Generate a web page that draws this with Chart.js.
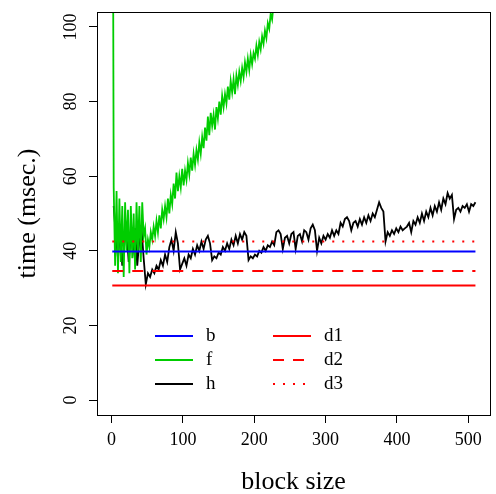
<!DOCTYPE html>
<html>
<head>
<meta charset="utf-8">
<script src="https://cdn.jsdelivr.net/npm/chart.js@4.4.1/dist/chart.umd.min.js"></script>
<style>
  html, body { margin: 0; padding: 0; background: #fff; }
  canvas { display: block; }
</style>
</head>
<body>
<canvas id="chartTime" width="496" height="494"></canvas>
<script>
// block sizes for the flat reference lines
const flatBlocks = [1, 510];
const bTime = 39.8;
const d1Time = 30.7;
const d2Time = 34.6;
const d3Time = 42.5;

// f : block sizes 1, 3, 5, ... 231 (read every 2nd block off the picture)
const fStart = 1, fStep = 2;
const fTime = [
  200, 57, 36, 56, 34, 54, 37, 52, 33, 53,
  40, 51, 34, 52, 38, 50, 35, 53, 40, 52,
  37, 53, 44, 46, 39, 43, 41, 45, 43, 46.5,
  44, 48, 45, 49.5, 46, 51, 48.5, 52, 49, 54,
  50, 55, 52.5, 58, 54, 61, 56, 60, 57, 62,
  57.5, 61.5, 59, 63.5, 60.5, 65, 61.5, 66, 63, 67,
  64.5, 69, 66, 70.5, 67.5, 73, 69.5, 76, 71, 77,
  73.5, 76.5, 72.5, 78.5, 75.5, 80, 76.5, 81.5, 78.5, 82,
  79.5, 84, 80.5, 85.5, 82.5, 86, 82, 87, 84.5, 88,
  85.5, 89, 86.5, 90.5, 88, 91.5, 88.5, 92.5, 90, 93,
  91.5, 95, 92.5, 96, 94, 97.5, 95.5, 99, 97, 101,
  99.5, 103.5, 102, 106, 105, 108
];

// h : block sizes 3, 6, 9, ... 510 (read every 3rd block off the picture)
const hStart = 3, hStep = 3;
const hTime = [
  52, 44, 38, 45, 36, 42, 46, 37, 44, 40,
  46, 36, 43, 46, 38, 31, 34, 33, 35, 34,
  36, 35, 37.5, 36, 39, 37, 41, 43, 40, 45,
  42, 35, 36.5, 38, 36, 39, 38, 40.5, 39, 41.5,
  40, 42.5, 40.5, 43, 44, 42, 37.5, 38.5, 38, 39.5,
  39, 41, 40, 42, 40.5, 43, 41.5, 44, 42, 44.5,
  43, 45, 44, 37.5, 38.5, 38, 39, 38.5, 40, 39.5,
  41, 40, 41.5, 41, 42.5, 41.5, 45, 45.5, 44.5, 40.5,
  43.5, 44, 42, 44.5, 45, 40.5, 44, 44.5, 42.5, 45.5,
  45, 43, 46, 47, 45.5, 40, 43.5, 42, 44, 43,
  44.5, 43.5, 45.5, 44, 45.5, 44.5, 47.5, 46.5, 48.5, 49,
  48, 45.5, 47.5, 48, 46.5, 48.5, 47, 49, 47.5, 49.5,
  48, 50, 49, 51, 53, 51.5, 50.5, 42.5, 45, 44,
  45.5, 44.5, 46, 45, 46.5, 45.5, 46, 46.5, 47.5, 45,
  48, 47, 49, 47.5, 50, 48, 50.5, 49, 51.5, 49.5,
  52, 50.5, 53, 51, 54, 52.5, 55.5, 54, 55, 48.5,
  51, 51.5, 50.5, 52, 51.5, 52.5, 50.5, 52.5, 52, 53
];

const xTicks = [0, 100, 200, 300, 400, 500];
const yTicks = [0, 20, 40, 60, 80, 100];

const serif = 'Liberation Serif';

function toPoints(values, start, step) {
  return values.map((v, i) => ({ x: start + i * step, y: v }));
}
function flat(v) {
  return flatBlocks.map((b) => ({ x: b, y: v }));
}
function noEdgePadding(s) {
  s.paddingTop = 0;
  s.paddingBottom = 0;
  s.paddingLeft = 0;
  s.paddingRight = 0;
}

// legend drawn inside the plot, two columns of three
const legendInside = {
  id: 'legendInside',
  afterDraw(chart) {
    const ctx = chart.ctx;
    const area = chart.chartArea;
    ctx.save();
    chart.data.datasets.forEach((ds, i) => {
      const col = Math.floor(i / 3);
      const row = i % 3;
      const x0 = area.left + 58 + col * 118;
      const y = area.top + 324 + row * 24;
      ctx.beginPath();
      ctx.strokeStyle = ds.borderColor;
      ctx.lineWidth = 2;
      ctx.setLineDash(ds.borderDash || []);
      ctx.moveTo(x0, y);
      ctx.lineTo(x0 + 38, y);
      ctx.stroke();
      ctx.setLineDash([]);
      ctx.fillStyle = '#000';
      ctx.font = '19px "' + serif + '"';
      ctx.textBaseline = 'middle';
      ctx.fillText(ds.label, x0 + 51, y);
    });
    // plot box
    ctx.strokeStyle = '#000';
    ctx.lineWidth = 1;
    ctx.strokeRect(area.left + 0.5, area.top + 0.5, area.right - area.left, area.bottom - area.top);
    ctx.restore();
  }
};

const ctx = document.getElementById('chartTime').getContext('2d');
const chartTime = new Chart(ctx, {
  type: 'line',
  data: {
    datasets: [
      { label: 'b', data: flat(bTime), borderColor: '#0000FF', borderWidth: 2, order: 4 },
      { label: 'f', data: toPoints(fTime, fStart, fStep), borderColor: '#00CD00', borderWidth: 1.8, order: 5 },
      { label: 'h', data: toPoints(hTime, hStart, hStep), borderColor: '#000000', borderWidth: 1.8, order: 6 },
      { label: 'd1', data: flat(d1Time), borderColor: '#FF0000', borderWidth: 2, order: 3 },
      { label: 'd2', data: flat(d2Time), borderColor: '#FF0000', borderWidth: 2, borderDash: [11, 9], order: 2 },
      { label: 'd3', data: flat(d3Time), borderColor: '#FF0000', borderWidth: 2, borderDash: [2, 8], order: 1 },
    ],
  },
  options: {
    responsive: false,
    animation: false,
    clip: 0,
    elements: {
      point: { radius: 0 },
      line: { tension: 0, fill: false },
    },
    layout: { padding: { top: 12, right: 6, left: 0, bottom: 0 } },
    plugins: {
      legend: { display: false },
      tooltip: { enabled: false },
    },
    scales: {
      x: {
        type: 'linear',
        min: -20.4,
        max: 530.4,
        afterBuildTicks: (s) => { s.ticks = xTicks.map((v) => ({ value: v })); },
        afterFit: (s) => { s.height = 79; noEdgePadding(s); },
        grid: { drawOnChartArea: false, drawTicks: true, tickLength: 8, color: '#000', tickColor: '#000' },
        border: { display: true, color: '#000' },
        ticks: { color: '#000', font: { family: serif, size: 18 }, padding: 6, maxRotation: 0, autoSkip: false },
        title: { display: true, text: 'block size', color: '#000', font: { family: serif, size: 26 }, padding: { top: 0, bottom: -4 } },
      },
      y: {
        type: 'linear',
        min: -4,
        max: 104,
        afterBuildTicks: (s) => { s.ticks = yTicks.map((v) => ({ value: v })); },
        afterFit: (s) => { s.width = 97; noEdgePadding(s); },
        grid: { drawOnChartArea: false, drawTicks: true, tickLength: 8, color: '#000', tickColor: '#000' },
        border: { display: true, color: '#000' },
        ticks: { color: '#000', font: { family: serif, size: 18 }, padding: 4, minRotation: 90, maxRotation: 90, crossAlign: 'center', autoSkip: false },
        title: { display: true, text: 'time (msec.)', color: '#000', font: { family: serif, size: 26 }, padding: { top: 13, bottom: 0 } },
      },
    },
  },
  plugins: [legendInside],
});
</script>
</body>
</html>
